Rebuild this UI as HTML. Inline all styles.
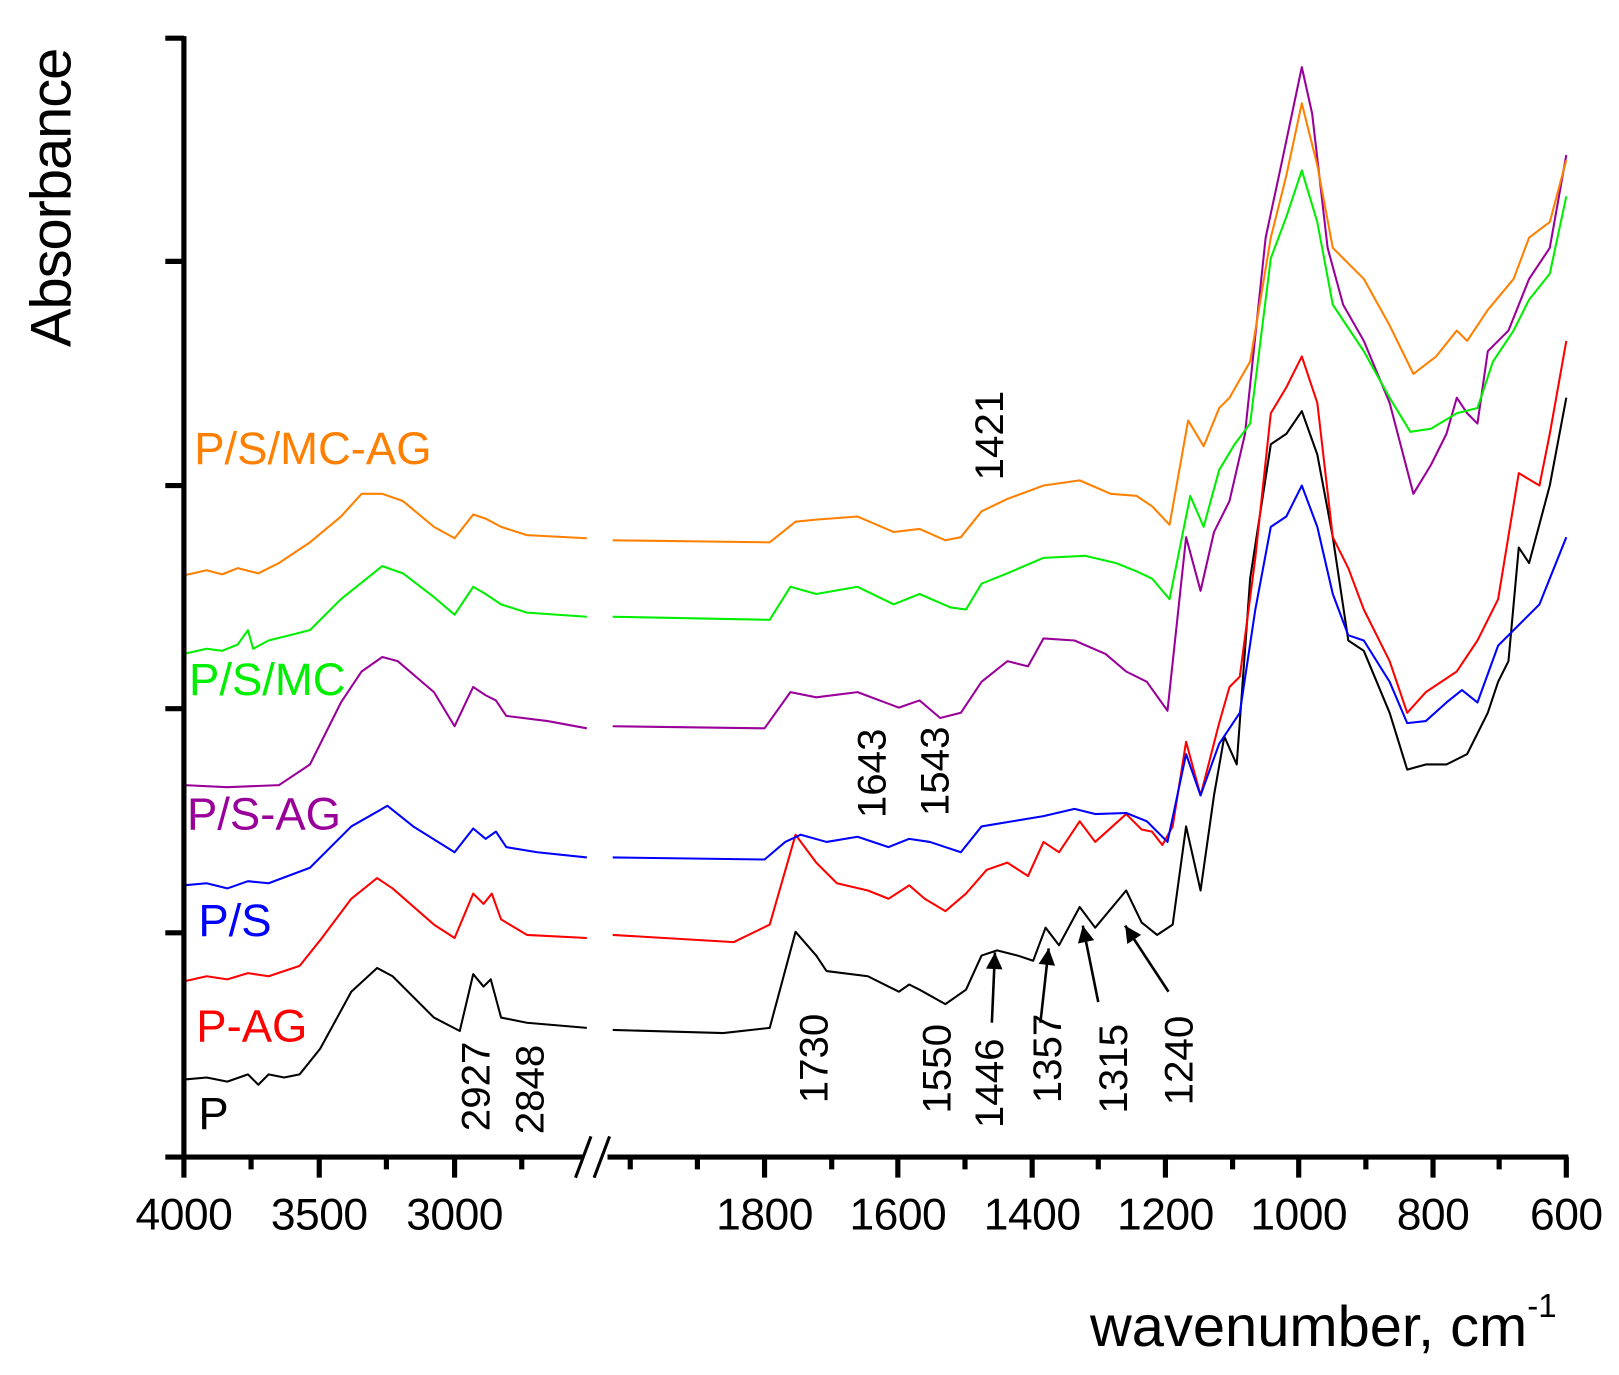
<!DOCTYPE html>
<html><head><meta charset="utf-8"><style>
html,body{margin:0;padding:0;background:#fff;}
svg{display:block;}
text{font-family:"Liberation Sans",Arial,sans-serif;}
</style></head><body>
<svg width="1619" height="1375" viewBox="0 0 1567 1331" preserveAspectRatio="none" xmlns="http://www.w3.org/2000/svg">
<defs>
<marker id="ah2" viewBox="0 0 10 10" markerWidth="26" markerHeight="16" refX="10" refY="5" orient="auto" markerUnits="userSpaceOnUse"><path d="M0,0 L10,5 L0,10 z" fill="#000"/></marker></defs>
<g fill="none" stroke-linejoin="round" stroke-width="2">
<polyline stroke="#000" points="178,1045 200,1043 220,1047 240,1040 250,1050 260,1040 275,1043 290,1040 310,1015 340,960 365,937 380,945 420,985 445,998 458,943 468,955 475,948 485,985 510,990 568,995"/>
<polyline stroke="#000" points="593,997 700,1000 745,995 770,902 790,925 800,940 840,945 870,960 880,953 890,958 915,972 935,958 950,925 965,920 985,925 1000,930 1012,898 1025,915 1045,878 1060,898 1090,862 1105,893 1120,905 1135,895 1148,800 1162,862 1175,770 1185,713 1197,740 1210,560 1230,430 1245,420 1260,398 1275,440 1290,520 1305,620 1320,630 1345,690 1362,745 1380,740 1400,740 1420,730 1440,690 1450,660 1460,640 1470,530 1480,545 1500,470 1516,385"/>
<polyline stroke="#ff0000" points="178,950 200,945 220,948 240,942 260,945 290,935 310,910 340,870 365,850 380,860 420,895 440,908 458,865 468,875 476,865 485,890 510,905 568,908"/>
<polyline stroke="#ff0000" points="593,905 710,912 745,895 770,808 790,835 810,855 840,862 860,870 880,857 895,870 915,882 935,865 955,842 975,835 995,848 1010,815 1025,825 1045,795 1060,815 1090,788 1105,803 1115,805 1125,818 1135,800 1148,718 1162,770 1180,700 1190,665 1200,655 1215,540 1230,400 1245,375 1260,345 1275,390 1290,520 1305,550 1320,590 1345,640 1362,690 1380,670 1410,650 1430,620 1450,580 1470,458 1490,470 1500,420 1516,330"/>
<polyline stroke="#0000ff" points="178,857 200,855 220,860 240,853 260,855 300,840 340,800 375,780 400,800 440,825 458,802 470,812 480,805 490,820 520,825 568,830"/>
<polyline stroke="#0000ff" points="593,830 740,832 760,815 775,808 800,815 830,810 860,820 880,812 900,815 930,825 950,800 980,795 1010,790 1040,783 1060,788 1090,787 1110,795 1130,815 1148,730 1162,770 1180,720 1200,690 1215,590 1230,510 1245,500 1260,470 1275,510 1290,575 1305,615 1320,620 1345,660 1362,700 1380,698 1400,680 1415,668 1430,680 1450,625 1470,605 1490,585 1516,520"/>
<polyline stroke="#990099" points="178,760 220,762 270,760 300,740 330,680 350,650 370,636 385,640 420,670 440,703 458,665 470,673 480,678 490,693 530,698 568,705"/>
<polyline stroke="#990099" points="593,703 740,705 765,670 790,675 830,670 870,685 890,678 910,695 930,690 950,660 975,640 995,645 1010,618 1040,620 1070,633 1090,650 1110,660 1130,688 1148,520 1162,572 1175,515 1190,485 1205,420 1225,230 1240,160 1260,65 1270,110 1285,240 1300,295 1320,330 1345,390 1368,478 1385,450 1400,420 1410,385 1420,400 1430,410 1440,340 1460,320 1480,270 1500,240 1516,150"/>
<polyline stroke="#00ee00" points="178,633 200,628 215,630 230,624 240,610 245,628 260,620 300,610 330,580 370,548 390,555 420,578 440,595 458,568 470,575 485,585 510,593 568,597"/>
<polyline stroke="#00ee00" points="593,597 745,600 765,568 790,575 830,568 865,585 890,575 920,588 935,590 950,565 975,555 1010,540 1050,538 1080,545 1100,553 1115,560 1132,580 1152,480 1165,510 1180,455 1195,430 1210,410 1230,250 1245,210 1260,165 1275,215 1290,295 1320,340 1345,385 1365,418 1385,415 1410,400 1430,395 1445,350 1465,320 1480,290 1500,265 1516,190"/>
<polyline stroke="#ff8000" points="178,557 200,552 215,556 230,550 250,555 270,545 300,525 330,500 350,478 370,478 390,485 420,510 440,521 458,498 470,502 485,510 510,518 568,521"/>
<polyline stroke="#ff8000" points="593,523 745,525 770,505 790,503 830,500 865,515 890,512 915,523 930,520 950,495 975,483 1010,470 1045,465 1075,478 1100,480 1115,490 1132,508 1150,407 1165,432 1180,395 1190,385 1210,350 1230,230 1245,170 1260,100 1275,160 1290,240 1320,270 1345,315 1368,362 1390,345 1410,320 1420,330 1440,300 1465,270 1480,230 1500,215 1516,155"/>
</g>
<g stroke="#000" stroke-width="5" fill="none">
<line x1="178" y1="35" x2="178" y2="1122"/>
<line x1="160" y1="1120" x2="565" y2="1120"/>
<line x1="588" y1="1120" x2="1518" y2="1120"/>
<path d="M160,37H178M160,253H178M160,470H178M160,686H178M160,903H178"/>
<path d="M178,1120V1140M309,1120V1140M440,1120V1140M243,1120V1132M374,1120V1132M505,1120V1132"/>
<path d="M740,1120V1140M869,1120V1140M999,1120V1140M1128,1120V1140M1257,1120V1140M1387,1120V1140M1516,1120V1140M610,1120V1132M675,1120V1132M805,1120V1132M934,1120V1132M1063,1120V1132M1193,1120V1132M1322,1120V1132M1451,1120V1132"/>
</g>
<g stroke="#000" stroke-width="3"><line x1="557" y1="1140" x2="572" y2="1100"/><line x1="575" y1="1140" x2="590" y2="1100"/></g>
<g font-size="43" text-anchor="middle" fill="#000" letter-spacing="-0.5">
<text x="178" y="1190">4000</text><text x="309" y="1190">3500</text><text x="440" y="1190">3000</text>
<text x="740" y="1190">1800</text><text x="869" y="1190">1600</text><text x="999" y="1190">1400</text><text x="1128" y="1190">1200</text><text x="1257" y="1190">1000</text><text x="1387" y="1190">800</text><text x="1516" y="1190">600</text>
</g>
<text x="1055" y="1303" font-size="56">wavenumber, cm<tspan font-size="32" dy="-28">-1</tspan></text>
<text transform="translate(68,336) rotate(-90)" font-size="56" letter-spacing="-1">Absorbance</text>
<g font-size="44">
<text x="188" y="449" fill="#ff8000">P/S/MC-AG</text>
<text x="183" y="673" fill="#00ee00">P/S/MC</text>
<text x="181" y="803" fill="#990099">P/S-AG</text>
<text x="192" y="906" fill="#0000ff">P/S</text>
<text x="190" y="1008" fill="#ff0000">P-AG</text>
<text x="192" y="1093" fill="#000">P</text>
</g>
<g font-size="39" fill="#000">
<text transform="translate(474,1095) rotate(-90)">2927</text>
<text transform="translate(526,1098) rotate(-90)">2848</text>
<text transform="translate(801,1068) rotate(-90)">1730</text>
<text transform="translate(920,1078) rotate(-90)">1550</text>
<text transform="translate(971,1092) rotate(-90)">1446</text>
<text transform="translate(1027,1068) rotate(-90)">1357</text>
<text transform="translate(1091,1078) rotate(-90)">1315</text>
<text transform="translate(1154,1070) rotate(-90)">1240</text>
<text transform="translate(857,792) rotate(-90)">1643</text>
<text transform="translate(918,790) rotate(-90)">1543</text>
<text transform="translate(971,465) rotate(-90)">1421</text>
</g>
<g stroke="#000" stroke-width="2.5">
<line x1="960" y1="990" x2="963" y2="922" marker-end="url(#ah2)"/>
<line x1="1007" y1="990" x2="1015" y2="918" marker-end="url(#ah2)"/>
<line x1="1063" y1="970" x2="1048" y2="896" marker-end="url(#ah2)"/>
<line x1="1131" y1="960" x2="1089" y2="896" marker-end="url(#ah2)"/>
</g>
</svg>
</body></html>
